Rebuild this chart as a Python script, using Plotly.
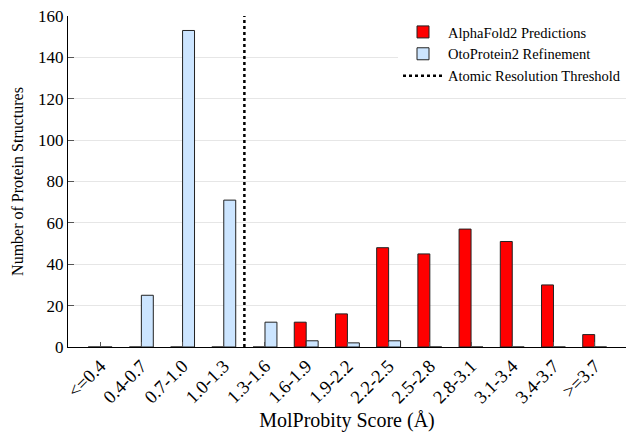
import plotly.graph_objects as go

categories = ["<=0.4", "0.4-0.7", "0.7-1.0", "1.0-1.3", "1.3-1.6", "1.6-1.9", "1.9-2.2",
              "2.2-2.5", "2.5-2.8", "2.8-3.1", "3.1-3.4", "3.4-3.7", ">=3.7"]
alphafold = [0, 0, 0, 0, 0, 12, 16, 48, 45, 57, 51, 30, 6]
otoprotein = [0, 25, 153, 71, 12, 3, 2, 3, 0, 0, 0, 0, 0]
threshold_x = 3.5
y_ticks = [0, 20, 40, 60, 80, 100, 120, 140, 160]

xs = list(range(len(categories)))
font = "Liberation Serif"

fig = go.Figure()
fig.add_trace(go.Bar(x=xs, y=alphafold, name="AlphaFold2 Predictions",
                     marker=dict(color="#FF0000", line=dict(color="#222222", width=1))))
fig.add_trace(go.Bar(x=xs, y=otoprotein, name="OtoProtein2 Refinement",
                     marker=dict(color="#CCE5FF", line=dict(color="#222222", width=1))))
fig.add_trace(go.Scatter(x=[threshold_x, threshold_x], y=[0, 160], mode="lines",
                         name="Atomic Resolution Threshold",
                         line=dict(color="black", width=2.5, dash="dot")))

fig.update_layout(
    width=627, height=432,
    margin=dict(l=68, r=1, t=16, b=85),
    paper_bgcolor="white", plot_bgcolor="white",
    barmode="group", bargap=0.42, bargroupgap=0,
    font=dict(family=font, size=17, color="black"),
    showlegend=True,
    legend=dict(x=1, y=1, xanchor="right", yanchor="top", bgcolor="white",
                borderwidth=0, font=dict(family=font, size=14.5), tracegroupgap=0,
                itemwidth=40),
)
fig.update_xaxes(
    range=[-0.78, 12.76], tickmode="array", tickvals=xs, ticktext=categories,
    tickangle=-45, ticks="inside", ticklen=5, tickcolor="#555555",
    showline=True, linecolor="black", linewidth=1, showgrid=False, zeroline=False,
    title=dict(text="MolProbity Score (Å)", font=dict(family=font, size=20), standoff=7),
    tickfont=dict(family=font, size=18.5),
)
fig.update_yaxes(
    range=[0, 160], tickvals=y_ticks, ticks="inside", ticklen=6, tickcolor="#555555",
    showline=True, linecolor="black", linewidth=1, showgrid=True, gridcolor="#E6E6E6",
    zeroline=False,
    title=dict(text="Number of Protein Structures", font=dict(family=font, size=16), standoff=10),
    tickfont=dict(family=font, size=17),
)

fig.write_html("out.html")
